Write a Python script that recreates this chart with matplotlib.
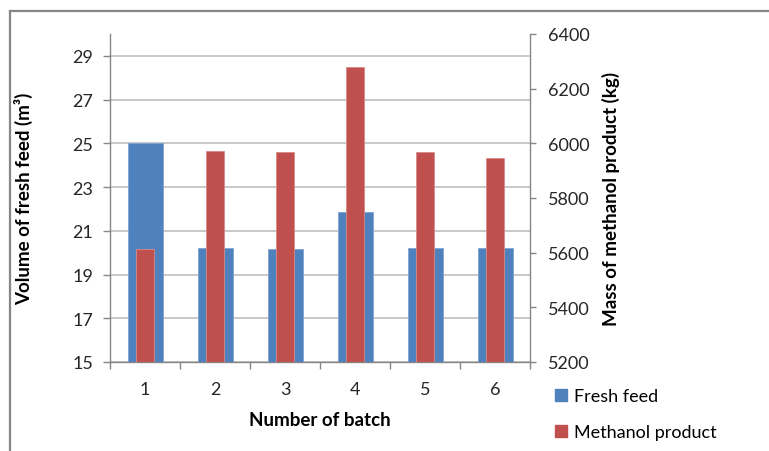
import numpy as np
import matplotlib.pyplot as plt
from matplotlib.patches import Rectangle
from matplotlib.lines import Line2D

plt.rcParams['font.family'] = ['Lato', 'DejaVu Sans']

# data
batches = [1, 2, 3, 4, 5, 6]
fresh_feed = [25.0, 20.2, 20.15, 21.85, 20.2, 20.2]        # m3, left axis
methanol_product = [5613, 5971, 5967, 6280, 5967, 5945]    # kg, right axis

blue = '#4F81BD'
red = '#C0504D'
axis_grey = '#868686'
grid_grey = '#BFBFBF'

fig = plt.figure(figsize=(7.69, 4.52), dpi=100)
ax = fig.add_axes([110 / 769, 1 - 363 / 452, 420 / 769, 328 / 452])
ax2 = ax.twinx()

x = np.array(batches)
ax.bar(x, fresh_feed, width=0.5, color=blue, edgecolor='#7FA3D1',
       linewidth=0.6, label='Fresh feed', zorder=3)
ax2.bar(x, methanol_product, width=0.26, color=red, edgecolor='#D98A88',
        linewidth=0.6, label='Methanol product', zorder=3)

# left axis
ax.set_ylim(15, 30)
ax.set_yticks(np.arange(15, 30, 2))
ax.yaxis.grid(True, color=grid_grey, linewidth=1.2, zorder=0)
ax.set_axisbelow(True)
ax.set_xlim(0.5, 6.5)
ax.set_xticks(batches)
ax.set_xticks(np.arange(0.5, 7, 1), minor=True)
ax.tick_params(axis='x', which='major', length=0, pad=14, labelsize=13,
               labelcolor='#262626')
ax.tick_params(axis='x', which='minor', length=5, color=axis_grey, width=1)
ax.tick_params(axis='y', length=5, color=axis_grey, width=1, pad=7,
               labelsize=13, labelcolor='#262626')

# right axis
ax2.set_ylim(5200, 6400)
ax2.set_yticks(np.arange(5200, 6401, 200))
ax2.tick_params(axis='y', length=4, color=axis_grey, width=1, pad=9,
                labelsize=13, labelcolor='#262626')

for a in (ax, ax2):
    a.spines['top'].set_visible(False)
    for s in ('left', 'right', 'bottom'):
        a.spines[s].set_color(axis_grey)
        a.spines[s].set_linewidth(1)
ax.spines['right'].set_visible(False)
ax2.spines['left'].set_visible(False)
ax2.spines['bottom'].set_visible(False)

ax.set_ylabel('Volume of fresh feed (m³)', fontsize=13.5, fontweight='bold')
ax.yaxis.set_label_coords(-0.183, 0.5)
ax2.set_ylabel('Mass of methanol product (kg)', fontsize=13.5, fontweight='bold')
ax2.yaxis.set_label_coords(1.172, 0.5)
ax.set_xlabel('Number of batch', fontsize=13.5, fontweight='bold')
ax.xaxis.set_label_coords(0.5, -0.15)

# legend
handles = [Rectangle((0, 0), 1, 1, color=blue),
           Rectangle((0, 0), 1, 1, color=red)]
fig.legend(handles, ['Fresh feed', 'Methanol product'],
           loc='upper left', bbox_to_anchor=(546 / 769, 1 - 380 / 452),
           frameon=False, fontsize=13, handlelength=0.65, handleheight=0.65,
           handletextpad=0.4, labelspacing=1.1, borderpad=0)

# chart frame (partly cut off in the original)
fig.add_artist(Line2D([10 / 769, 10 / 769], [0, 1 - 12 / 452],
                      transform=fig.transFigure, color=axis_grey, linewidth=1.6))
fig.add_artist(Line2D([10 / 769, 1], [1 - 12 / 452, 1 - 12 / 452],
                      transform=fig.transFigure, color=axis_grey, linewidth=1.6))

fig.savefig('out.png', dpi=100)
